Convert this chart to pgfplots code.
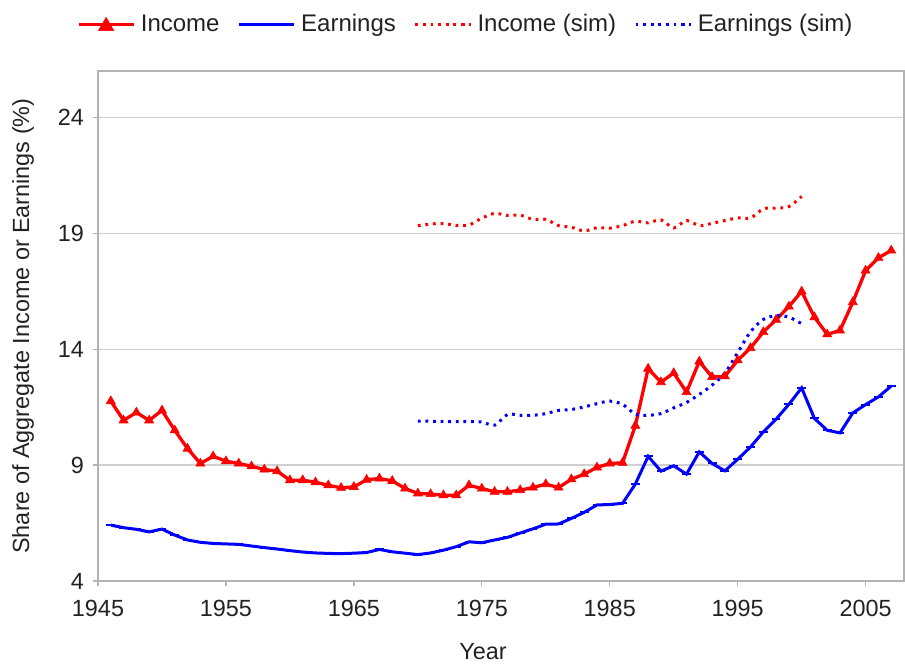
\documentclass[border=0pt]{standalone}
\usepackage{fontspec}
\setmainfont{Liberation Sans}
\usepackage{pgfplots}
\pgfplotsset{compat=1.18}
\definecolor{gridgray}{HTML}{D0D0D0}
\definecolor{axisgray}{HTML}{B3B3B3}
\definecolor{txt}{HTML}{222222}
\begin{document}
\begin{tikzpicture}[font=\fontsize{11.7}{14}\selectfont]
\path[use as bounding box] (-49pt,-42pt) rectangle (403.5pt,290.5pt);
\begin{axis}[
  at={(0,0)}, anchor=south west,
  scale only axis, width=403pt, height=255pt,
  xmin=1945, xmax=2008, ymin=4, ymax=26,
  xtick={1945,1955,...,2005}, ytick={4,9,14,19,24},
  /pgf/number format/assume math mode=true,
  /pgf/number format/set thousands separator={},
  xticklabel style={yshift=-3.5pt, text=txt},
  yticklabel style={xshift=-1pt, text=txt},
  tick align=outside, major tick length=2.5pt,
  xtick pos=bottom, ytick pos=left,
  tick style={axisgray, line width=0.65pt},
  ymajorgrids, grid style={gridgray, line width=0.65pt},
  axis line style={axisgray, line width=0.65pt},
  xlabel={Year},
  ylabel={Share of Aggregate Income or Earnings (\%)},
  every axis x label/.style={at={(axis description cs:0.4777,-0.1392)}, anchor=center, text=txt},
  every axis y label/.style={at={(axis description cs:-0.0931,0.5)}, rotate=90, anchor=center, text=txt},
  legend columns=4,
  legend style={draw=none, fill=none, at={(0.455,1.091)}, anchor=center,
    font=\fontsize{12}{14}\selectfont,
    nodes={inner sep=0pt, text=txt},
    /tikz/every odd column/.append style={column sep=2.8pt},
    /tikz/every even column/.append style={column sep=9pt}},
  legend image code/.code={\draw[mark repeat=2,mark phase=2,#1] plot coordinates {(0pt,0pt) (13.75pt,0pt) (27.5pt,0pt)};},
]
\addplot[red, line width=1.65pt, mark=triangle*, mark size=2.6pt, mark options={solid, line width=0.3pt},
  legend image post style={mark size=4.4pt, mark options={solid, line width=0.3pt, yshift=-0.8pt}}] coordinates {
(1946,11.76) (1947,10.93) (1948,11.27) (1949,10.93) (1950,11.36) (1951,10.50) (1952,9.71) (1953,9.07) (1954,9.38) (1955,9.17)
(1956,9.07) (1957,8.95) (1958,8.81) (1959,8.74) (1960,8.35) (1961,8.35) (1962,8.26) (1963,8.13) (1964,8.02) (1965,8.06)
(1966,8.37) (1967,8.42) (1968,8.32) (1969,7.99) (1970,7.78) (1971,7.75) (1972,7.70) (1973,7.70) (1974,8.13) (1975,7.99)
(1976,7.85) (1977,7.85) (1978,7.92) (1979,8.03) (1980,8.18) (1981,8.03) (1982,8.39) (1983,8.61) (1984,8.90) (1985,9.07)
(1986,9.10) (1987,10.70) (1988,13.16) (1989,12.58) (1990,12.97) (1991,12.15) (1992,13.47) (1993,12.80) (1994,12.83) (1995,13.52)
(1996,14.05) (1997,14.74) (1998,15.27) (1999,15.84) (2000,16.49) (2001,15.38) (2002,14.64) (2003,14.81) (2004,16.03) (2005,17.39)
(2006,17.94) (2007,18.26)};
\addlegendentry{Income}
\addplot[blue, line width=1.5pt, mark=-, mark size=2.2pt, mark options={solid, line width=1pt}] coordinates {
(1946,6.41) (1947,6.30) (1948,6.23) (1949,6.12) (1950,6.24) (1951,5.98) (1952,5.77) (1953,5.67) (1954,5.62) (1955,5.60)
(1956,5.58) (1957,5.51) (1958,5.44) (1959,5.38) (1960,5.31) (1961,5.25) (1962,5.21) (1963,5.19) (1964,5.18) (1965,5.20)
(1966,5.23) (1967,5.36) (1968,5.26) (1969,5.20) (1970,5.14) (1971,5.21) (1972,5.33) (1973,5.48) (1974,5.69) (1975,5.65)
(1976,5.77) (1977,5.88) (1978,6.07) (1979,6.25) (1980,6.45) (1981,6.46) (1982,6.70) (1983,6.96) (1984,7.28) (1985,7.30)
(1986,7.35) (1987,8.18) (1988,9.38) (1989,8.74) (1990,8.97) (1991,8.61) (1992,9.57) (1993,9.07) (1994,8.75) (1995,9.25)
(1996,9.78) (1997,10.43) (1998,10.98) (1999,11.62) (2000,12.33) (2001,11.01) (2002,10.50) (2003,10.39) (2004,11.25) (2005,11.61)
(2006,11.94) (2007,12.41)};
\addlegendentry{Earnings}
\addplot[red, line width=1.5pt, dash pattern=on 1.4pt off 2.4pt, smooth] coordinates {
(1970,19.33) (1971,19.40) (1972,19.42) (1973,19.34) (1974,19.36) (1975,19.65) (1976,19.86) (1977,19.77) (1978,19.78) (1979,19.60)
(1980,19.60) (1981,19.33) (1982,19.26) (1983,19.10) (1984,19.24) (1985,19.22) (1986,19.33) (1987,19.52) (1988,19.45) (1989,19.58)
(1990,19.23) (1991,19.55) (1992,19.33) (1993,19.43) (1994,19.55) (1995,19.66) (1996,19.66) (1997,20.05) (1998,20.09) (1999,20.15)
(2000,20.59)};
\addlegendentry{Income (sim)}
\addplot[blue, line width=1.5pt, dash pattern=on 1.4pt off 2.4pt, smooth] coordinates {
(1970,10.90) (1971,10.89) (1972,10.88) (1973,10.88) (1974,10.87) (1975,10.86) (1976,10.72) (1977,11.18) (1978,11.15) (1979,11.15)
(1980,11.22) (1981,11.36) (1982,11.40) (1983,11.51) (1984,11.65) (1985,11.76) (1986,11.62) (1987,11.20) (1988,11.15) (1989,11.22)
(1990,11.47) (1991,11.70) (1992,12.05) (1993,12.45) (1994,12.97) (1995,13.85) (1996,14.75) (1997,15.28) (1998,15.45) (1999,15.38)
(2000,15.10)};
\addlegendentry{Earnings (sim)}
\end{axis}
\end{tikzpicture}
\end{document}
